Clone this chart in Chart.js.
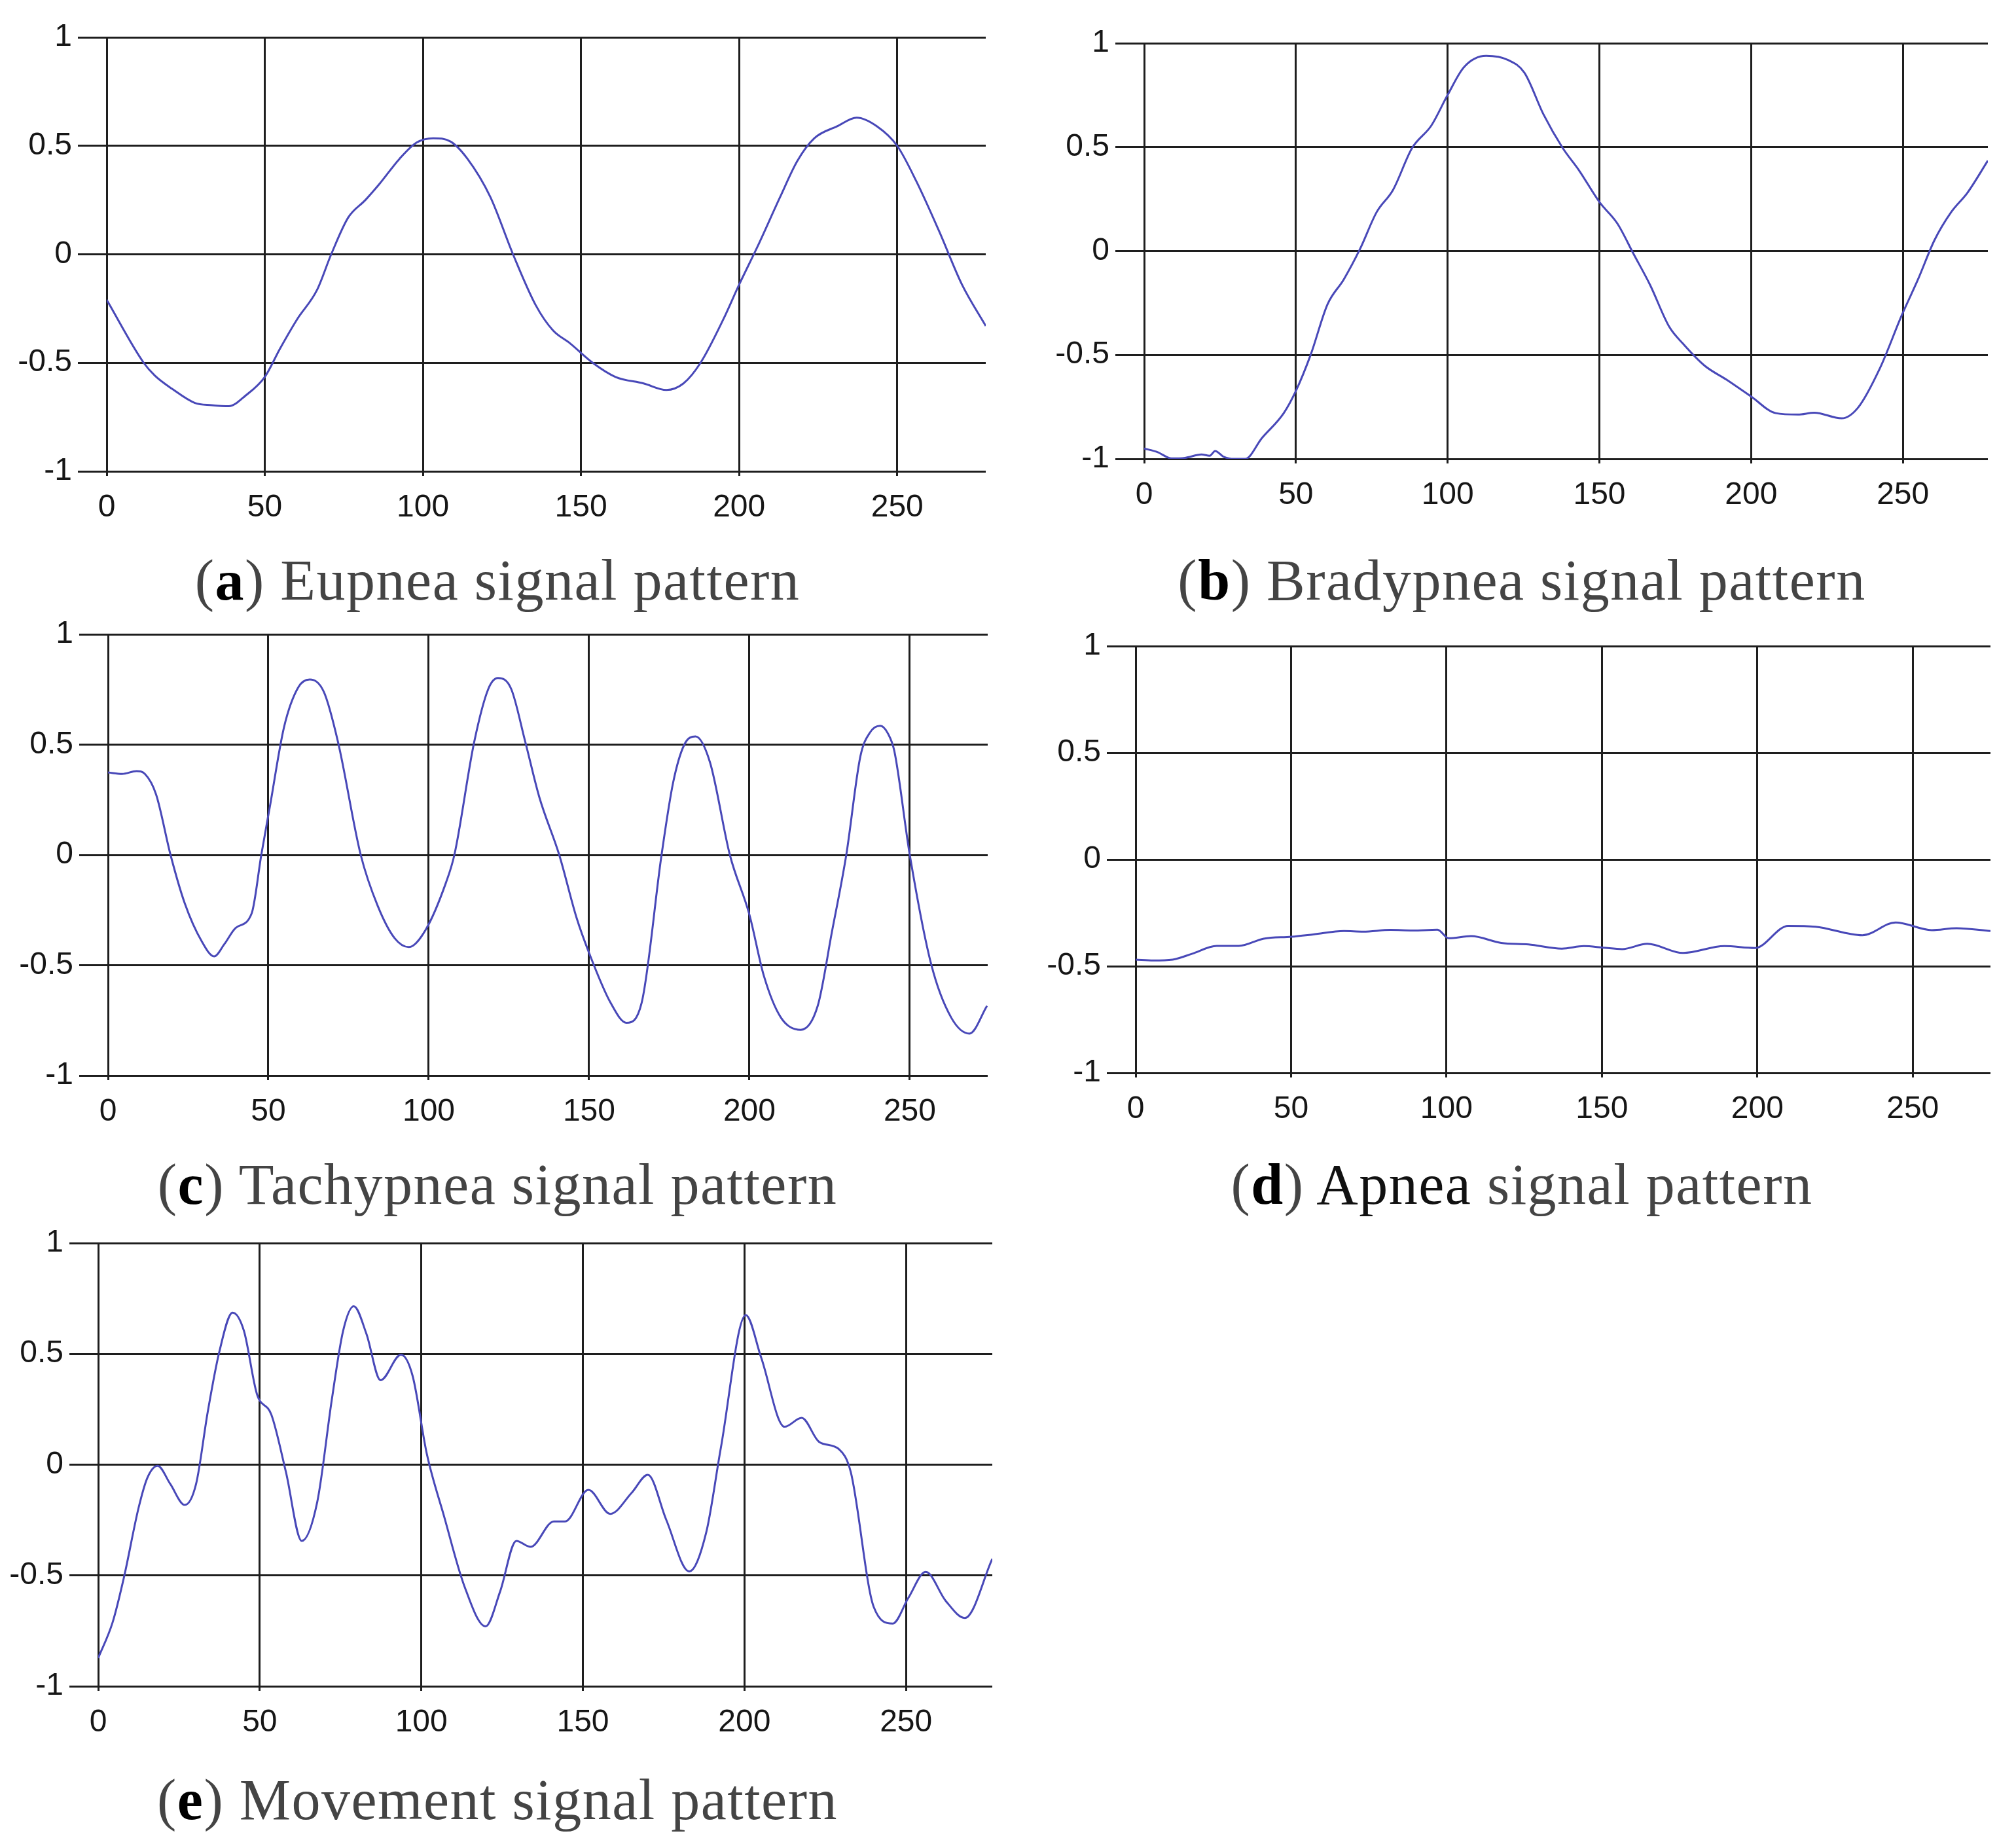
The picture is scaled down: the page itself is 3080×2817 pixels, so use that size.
<!DOCTYPE html>
<html lang="en">
<head>
    <meta charset="UTF-8">
    <title>Respiration signal patterns</title>
    <script src="https://cdn.jsdelivr.net/npm/chart.js@4.4.0/dist/chart.umd.min.js"></script>
    <style>
        html, body { margin: 0; padding: 0; background: #fff; }
        body { width: 3080px; height: 2817px; position: relative; overflow: hidden; }
        canvas { position: absolute; }
        .caption {
            position: absolute; width: 1520px; text-align: center;
            font-family: "Liberation Serif", "Times New Roman", serif;
            font-size: 88px; line-height: 100px; letter-spacing: 1.5px;
            color: #444; white-space: nowrap;
        }
        .caption b { color: #000; }
    </style>
</head>
<body>

<canvas id="chartA"></canvas>
<canvas id="chartB"></canvas>
<canvas id="chartC"></canvas>
<canvas id="chartD"></canvas>
<canvas id="chartE"></canvas>

<div class="caption" style="left:0; top:837px">(<b>a</b>) Eupnea signal pattern</div>
<div class="caption" style="left:1565px; top:837px">(<b>b</b>) Bradypnea signal pattern</div>
<div class="caption" style="left:0; top:1760px">(<b>c</b>) Tachypnea signal pattern</div>
<div class="caption" style="left:1565px; top:1760px">(<b>d</b>) <span style="color:#111">Apnea</span> signal pattern</div>
<div class="caption" style="left:0; top:2700px">(<b>e</b>) Movement signal pattern</div>

<script>
    // ticks shared by all five panels
    const xTicks = [0, 50, 100, 150, 200, 250];
    const xTickLabels = ['0', '50', '100', '150', '200', '250'];
    const yTicks = [-1, -0.5, 0, 0.5, 1];
    const yTickLabels = ['-1', '-0.5', '0', '0.5', '1'];

    // (a) eupnea
    const eupneaX = [0, 11.7, 15.3, 20.7, 27.9, 33.2, 38.6, 44, 50, 54.8, 60.2, 66.5, 71, 76.4, 81.8,
        86.3, 92.6, 98, 103.3, 108.7, 114.1, 121.3, 128.5, 135.7, 141.1, 146.5, 153.7, 160.9, 169.8, 177,
        182.4, 187.8, 195, 200, 205.8, 213, 218.4, 223.8, 231, 237.2, 243.6, 250, 256.1, 263.3, 270.5, 278];
    const eupneaY = [-0.21, -0.50, -0.56, -0.62, -0.685, -0.695, -0.70, -0.65, -0.565, -0.435, -0.30, -0.165, 0.0, 0.17, 0.25,
        0.325, 0.44, 0.515, 0.535, 0.52, 0.44, 0.265, 0.0, -0.235, -0.35, -0.41, -0.50, -0.565, -0.595, -0.625,
        -0.595, -0.50, -0.30, -0.14, 0.035, 0.265, 0.43, 0.535, 0.59, 0.63, 0.59, 0.50, 0.335, 0.105, -0.14, -0.33];

    // (b) bradypnea
    const bradyX = [0, 4.5, 9, 13.5, 18.9, 21.6, 23.4, 26.1, 29.7, 33.3, 38.8, 46, 50, 54.9, 60.4, 65.8,
        71.2, 76.6, 82, 88.3, 94.6, 100, 105.4, 112.7, 119.9, 125.3, 131.6, 137.9, 143.3, 150.1, 155.9,
        161.3, 166.7, 173, 177.5, 184.7, 191.9, 200, 208.1, 215.4, 220.8, 229.8, 235.2, 242.4, 249.6,
        255, 260.4, 265.9, 271.3, 278];
    const bradyY = [-0.95, -0.968, -0.998, -0.995, -0.979, -0.985, -0.962, -0.989, -1.0, -1.0, -0.90, -0.78, -0.673, -0.498, -0.257, -0.136,
        0.012, 0.187, 0.294, 0.496, 0.603, 0.751, 0.885, 0.939, 0.919, 0.858, 0.657, 0.496, 0.388, 0.234, 0.133,
        -0.015, -0.163, -0.364, -0.445, -0.552, -0.619, -0.70, -0.78, -0.787, -0.778, -0.805, -0.754, -0.565, -0.31,
        -0.136, 0.052, 0.187, 0.281, 0.435];

    // (c) tachypnea
    const tachyX = [0, 4.4, 8.9, 11.5, 15, 19.5, 23.9, 29.2, 33.1, 36.3, 39.8, 44.8, 47.8, 50.5, 54.9, 59.3,
        62.9, 67.3, 71.7, 78.8, 84.1, 89.4, 93.8, 99.1, 105.4, 108, 114.2, 118.6, 121.6, 125.7, 130.1,
        134.5, 140.7, 146.1, 150, 156.7, 161.7, 166.4, 172.6, 176.2, 179.7, 183.2, 187.7, 193.9, 200,
        204.5, 209.8, 216, 221.3, 225.7, 230.2, 234.6, 237.6, 240.8, 243.2, 245.2, 250, 256.7, 262.9, 268.6, 274.1];
    const tachyY = [0.374, 0.367, 0.38, 0.367, 0.274, 0.0, -0.218, -0.391, -0.46, -0.404, -0.331, -0.265, 0.0, 0.221, 0.58, 0.759,
        0.795, 0.739, 0.513, 0.0, -0.231, -0.378, -0.418, -0.338, -0.125, 0.0, 0.513, 0.753, 0.802, 0.753, 0.513,
        0.261, 0.0, -0.285, -0.444, -0.67, -0.761, -0.67, 0.0, 0.327, 0.50, 0.537, 0.42, 0.0, -0.271,
        -0.548, -0.737, -0.793, -0.684, -0.351, 0.0, 0.447, 0.555, 0.585, 0.55, 0.47, 0.0, -0.497, -0.737, -0.81, -0.684];

    // (d) apnea
    const apneaX = [0, 5.7, 11.9, 18.1, 26.1, 33.2, 41.2, 50.1, 57.2, 67, 73.2, 82, 89.1, 97.1, 100.7, 107.9,
        117.6, 126.4, 137.1, 144.2, 150.4, 156.5, 164.6, 176.1, 189.4, 199.2, 209.9, 218.7, 233.8, 244.5,
        256.1, 264.1, 275];
    const apneaY = [-0.469, -0.473, -0.469, -0.442, -0.405, -0.405, -0.371, -0.362, -0.351, -0.335, -0.338, -0.33, -0.333, -0.329, -0.369, -0.359,
        -0.391, -0.398, -0.418, -0.406, -0.413, -0.42, -0.395, -0.438, -0.406, -0.415, -0.311, -0.315, -0.355, -0.295,
        -0.331, -0.322, -0.335];

    // (e) movement
    const moveX = [0, 4.5, 8, 12.5, 15.2, 18.4, 22.3, 26.8, 30.3, 33.9, 37.5, 41.6, 45.1, 49.1, 53.6, 58.1,
        63, 67.8, 72.3, 75.8, 79.1, 83, 87.4, 93.7, 97.3, 101.7, 107.1, 113.3, 119.9, 124.4, 129.4,
        133.8, 141, 144.5, 151.7, 158.5, 165.1, 170.1, 175.8, 182.9, 188.2, 192.7, 200.4, 205.2, 212.4,
        217.7, 223.1, 229.3, 232.9, 240, 245.9, 250.7, 256.1, 262.3, 268.2, 276.7];
    const moveY = [-0.873, -0.71, -0.507, -0.195, -0.06, -0.005, -0.087, -0.182, -0.087, 0.238, 0.51, 0.686, 0.604, 0.32, 0.225, -0.033,
        -0.344, -0.168, 0.293, 0.604, 0.715, 0.591, 0.381, 0.496, 0.401, 0.049, -0.236, -0.547, -0.73, -0.572, -0.344,
        -0.371, -0.256, -0.256, -0.114, -0.222, -0.127, -0.046, -0.249, -0.482, -0.304, 0.076, 0.675, 0.482, 0.171,
        0.211, 0.103, 0.069, -0.033, -0.642, -0.717, -0.602, -0.484, -0.615, -0.692, -0.425];

    const LINE_COLOR = '#4848b8';
    const GRID_COLOR = '#1e1e1e';
    const TICK_COLOR = '#161616';
    const PAD_TOP = 40;
    const X_AXIS_H = 110;

    function drawPanel(canvasId, xs, ys, xMax, box) {
        const yAxisW = Math.min(160, box.left);
        const canvas = document.getElementById(canvasId);
        canvas.width = box.right - box.left + yAxisW;
        canvas.height = box.bottom - box.top + PAD_TOP + X_AXIS_H;
        canvas.style.left = (box.left - yAxisW) + 'px';
        canvas.style.top = (box.top - PAD_TOP) + 'px';

        const tickFont = { family: '"Liberation Sans", Arial, sans-serif', size: 48 };

        new Chart(canvas, {
            type: 'line',
            data: {
                datasets: [{
                    data: xs.map((x, i) => ({ x: x, y: ys[i] })),
                    borderColor: LINE_COLOR,
                    borderWidth: 3,
                    pointRadius: 0,
                    cubicInterpolationMode: 'monotone',
                    fill: false
                }]
            },
            options: {
                responsive: false,
                animation: false,
                devicePixelRatio: 1,
                layout: { padding: { top: PAD_TOP, left: 0, right: 0, bottom: 0 } },
                plugins: { legend: { display: false }, tooltip: { enabled: false } },
                scales: {
                    x: {
                        type: 'linear', min: 0, max: xMax,
                        afterBuildTicks: s => { s.ticks = xTicks.map(v => ({ value: v })); },
                        afterFit: s => { s.height = X_AXIS_H; },
                        grid: { color: GRID_COLOR, lineWidth: 3, tickLength: 7 },
                        border: { display: false },
                        ticks: {
                            font: tickFont, color: TICK_COLOR, padding: 20,
                            maxRotation: 0, autoSkip: false,
                            callback: (v, i) => xTickLabels[i]
                        }
                    },
                    y: {
                        type: 'linear', min: -1, max: 1,
                        afterBuildTicks: s => { s.ticks = yTicks.map(v => ({ value: v })); },
                        afterFit: s => { s.width = yAxisW; },
                        grid: { color: GRID_COLOR, lineWidth: 3, tickLength: 44 },
                        border: { display: false },
                        ticks: {
                            font: tickFont, color: TICK_COLOR, padding: 9,
                            autoSkip: false,
                            callback: (v, i) => yTickLabels[i]
                        }
                    }
                }
            }
        });
    }

    drawPanel('chartA', eupneaX, eupneaY, 278, { left: 163, right: 1506, top: 57, bottom: 720 });
    drawPanel('chartB', bradyX, bradyY, 278, { left: 1748, right: 3037, top: 66, bottom: 701 });
    drawPanel('chartC', tachyX, tachyY, 274.3, { left: 165, right: 1509, top: 969, bottom: 1643 });
    drawPanel('chartD', apneaX, apneaY, 275, { left: 1735, right: 3041, top: 987, bottom: 1639 });
    drawPanel('chartE', moveX, moveY, 276.7, { left: 150, right: 1516, top: 1899, bottom: 2576 });
</script>
</body>
</html>
